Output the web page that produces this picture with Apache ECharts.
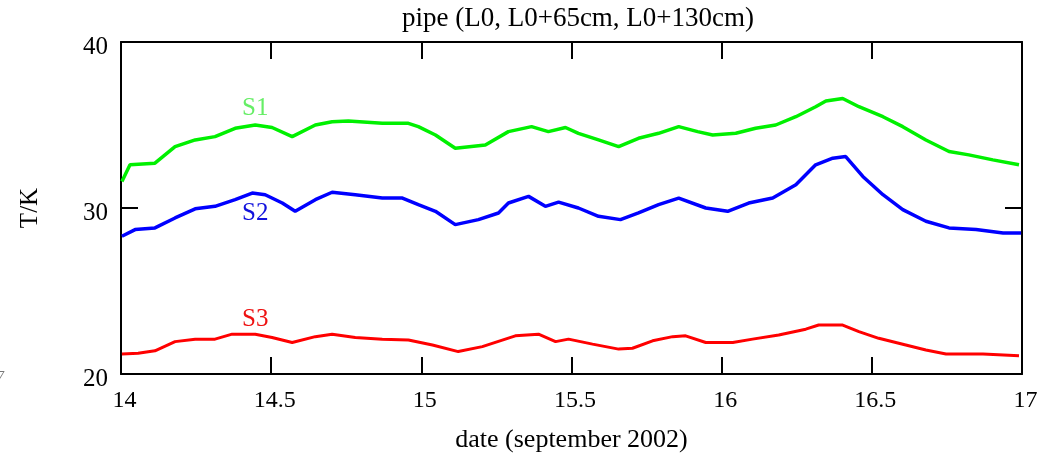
<!DOCTYPE html>
<html>
<head>
<meta charset="UTF-8">
<title>pipe temperatures</title>
<script src="https://cdn.jsdelivr.net/npm/echarts@6.0.0/dist/echarts.min.js"></script>
<style>
  html, body { margin: 0; padding: 0; background: #fff; }
  #chart { width: 1062px; height: 453px; }
</style>
</head>
<body>
<div id="chart"></div>
<script>
// date (september 2002)
const s1Days = [14.003, 14.030, 14.113, 14.180, 14.247, 14.313, 14.380, 14.447, 14.503, 14.570, 14.647, 14.703, 14.757, 14.870, 14.957, 14.990, 15.047, 15.113, 15.213, 15.290, 15.367, 15.423, 15.480, 15.523, 15.590, 15.657, 15.723, 15.790, 15.857, 15.920, 15.970, 16.047, 16.113, 16.180, 16.247, 16.313, 16.347, 16.403, 16.457, 16.537, 16.603, 16.680, 16.757, 16.823, 16.903, 16.990];
const s1Temp = [31.6, 32.6, 32.7, 33.7, 34.1, 34.3, 34.8, 35.0, 34.85, 34.3, 35.0, 35.2, 35.24, 35.1, 35.1, 34.9, 34.4, 33.6, 33.8, 34.6, 34.9, 34.6, 34.85, 34.5, 34.1, 33.7, 34.2, 34.5, 34.9, 34.6, 34.4, 34.5, 34.8, 35.0, 35.5, 36.1, 36.45, 36.6, 36.1, 35.5, 34.9, 34.1, 33.4, 33.2, 32.9, 32.6];

const s2Days = [14.003, 14.047, 14.113, 14.180, 14.247, 14.313, 14.380, 14.437, 14.480, 14.537, 14.580, 14.647, 14.703, 14.780, 14.870, 14.937, 14.990, 15.047, 15.113, 15.190, 15.257, 15.290, 15.357, 15.413, 15.457, 15.523, 15.590, 15.663, 15.723, 15.790, 15.857, 15.947, 16.020, 16.090, 16.170, 16.247, 16.313, 16.370, 16.413, 16.470, 16.537, 16.603, 16.680, 16.757, 16.847, 16.937, 16.997];
const s2Temp = [28.3, 28.7, 28.8, 29.4, 29.95, 30.1, 30.5, 30.9, 30.8, 30.3, 29.8, 30.5, 30.95, 30.8, 30.6, 30.6, 30.2, 29.8, 29.0, 29.3, 29.7, 30.3, 30.7, 30.1, 30.35, 30.0, 29.5, 29.3, 29.7, 30.2, 30.6, 30.0, 29.8, 30.3, 30.6, 31.4, 32.6, 33.0, 33.1, 31.9, 30.8, 29.9, 29.2, 28.8, 28.7, 28.5, 28.5];

const s3Days = [14.003, 14.057, 14.113, 14.180, 14.247, 14.313, 14.370, 14.447, 14.503, 14.570, 14.647, 14.703, 14.780, 14.870, 14.957, 15.037, 15.123, 15.203, 15.313, 15.390, 15.447, 15.490, 15.570, 15.657, 15.703, 15.770, 15.837, 15.880, 15.947, 16.037, 16.103, 16.190, 16.280, 16.323, 16.403, 16.457, 16.523, 16.613, 16.680, 16.747, 16.870, 16.990];
const s3Temp = [21.2, 21.25, 21.4, 21.95, 22.1, 22.1, 22.4, 22.4, 22.2, 21.9, 22.25, 22.4, 22.2, 22.1, 22.05, 21.75, 21.35, 21.65, 22.3, 22.4, 21.95, 22.1, 21.8, 21.5, 21.55, 22.0, 22.25, 22.3, 21.9, 21.9, 22.1, 22.35, 22.7, 22.95, 22.95, 22.55, 22.15, 21.75, 21.45, 21.2, 21.2, 21.1];

const xTicks = [14, 14.5, 15, 15.5, 16, 16.5, 17];
const yTicks = [20, 30, 40];

const serif = '"Liberation Serif", "DejaVu Serif", serif';

function pairs(xs, ys) {
    return xs.map((x, i) => [x, ys[i]]);
}

const frameLine = { show: true, onZero: false, lineStyle: { color: '#000', width: 2 } };
const inTick = { show: true, inside: true, length: 17, lineStyle: { color: '#000', width: 2 } };

const chart = echarts.init(document.getElementById('chart'));
chart.setOption({
    animation: false,
    backgroundColor: '#fff',
    grid: { left: 121, right: 40, top: 42, bottom: 79, outerBoundsMode: 'none', containLabel: false },
    xAxis: [
        {
            type: 'value', min: 14, max: 17, interval: 0.5,
            position: 'bottom',
            axisLine: frameLine, axisTick: inTick, splitLine: { show: false },
            axisLabel: {
                margin: 15, color: '#000', fontFamily: serif, fontSize: 24,
                padding: [0, 0, 0, 7],
                formatter: v => xTicks.includes(v) ? String(v) : ''
            },
            name: 'date (september 2002)',
            nameLocation: 'middle', nameGap: 53,
            nameTextStyle: { fontFamily: serif, fontSize: 26, color: '#000' }
        },
        {
            type: 'value', min: 14, max: 17, interval: 0.5,
            position: 'top',
            axisLine: frameLine, axisTick: inTick, splitLine: { show: false },
            axisLabel: { show: false }
        }
    ],
    yAxis: [
        {
            type: 'value', min: 20, max: 40, interval: 10,
            position: 'left',
            axisLine: frameLine, axisTick: inTick, splitLine: { show: false },
            axisLabel: {
                margin: 13, color: '#000', fontFamily: serif, fontSize: 25,
                verticalAlign: 'top', lineHeight: 10,
                formatter: v => yTicks.includes(v) ? String(v) : ''
            },
            name: 'T/K',
            nameLocation: 'middle', nameGap: 78, nameRotate: 90,
            nameTextStyle: { fontFamily: serif, fontSize: 25, color: '#000' }
        },
        {
            type: 'value', min: 20, max: 40, interval: 10,
            position: 'right',
            axisLine: frameLine, axisTick: inTick, splitLine: { show: false },
            axisLabel: { show: false }
        }
    ],
    series: [
        {
            name: 'S1', type: 'line', showSymbol: false, symbol: 'none',
            data: pairs(s1Days, s1Temp),
            lineStyle: { color: '#00f000', width: 3.5 }
        },
        {
            name: 'S2', type: 'line', showSymbol: false, symbol: 'none',
            data: pairs(s2Days, s2Temp),
            lineStyle: { color: '#0000ff', width: 3.5 }
        },
        {
            name: 'S3', type: 'line', showSymbol: false, symbol: 'none',
            data: pairs(s3Days, s3Temp),
            lineStyle: { color: '#ff0000', width: 3 }
        }
    ],
    graphic: [
        {
            type: 'text', x: 578, y: 19,
            style: {
                text: 'pipe (L0, L0+65cm, L0+130cm)', font: '27px ' + serif, fill: '#000',
                align: 'center', verticalAlign: 'middle'
            }
        },
        { type: 'text', left: 242, top: 96, style: { text: 'S1', font: '25px ' + serif, fill: '#66ee66' } },
        { type: 'text', left: 242, top: 201, style: { text: 'S2', font: '25px ' + serif, fill: '#1111dd' } },
        { type: 'text', left: 242, top: 307, style: { text: 'S3', font: '25px ' + serif, fill: '#ee1111' } },
        { type: 'text', left: -3, top: 370, style: { text: '7', font: 'italic 14px ' + serif, fill: '#777' } }
    ]
});
</script>
</body>
</html>
